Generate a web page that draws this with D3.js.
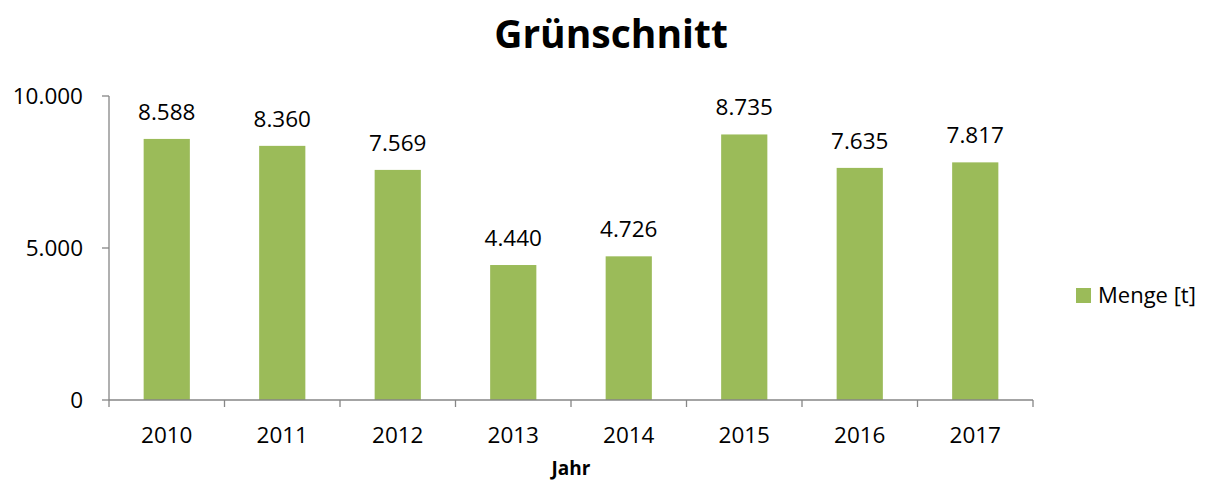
<!DOCTYPE html>
<html>
<head>
<meta charset="utf-8">
<script src="https://cdn.jsdelivr.net/npm/d3@7"></script>
<style>
  body { margin: 0; background: #fff; }
  svg text { font-family: "Open Sans", sans-serif; fill: #000; }
</style>
</head>
<body>
<svg id="chart" width="1211" height="482"></svg>
<script>
/*Data*/
var years = ['2010', '2011', '2012', '2013', '2014', '2015', '2016', '2017'];
var menge = [8588, 8360, 7569, 4440, 4726, 8735, 7635, 7817];
var yTicks = [0, 5000, 10000];

var svg = d3.select('#chart'),
    plotLeft = 109, plotRight = 1033, plotTop = 96, plotBottom = 400;

var fmt = function(v) { return d3.format(',')(v).replace(/,/g, '.'); };

var x = d3.scaleBand().domain(years).range([plotLeft, plotRight]).paddingInner(0.6).paddingOuter(0.3),
    y = d3.scaleLinear().domain([0, 10000]).range([plotBottom, plotTop]);

/*Title*/
svg.append('text')
    .attr('x', 611).attr('y', 48)
    .attr('text-anchor', 'middle')
    .style('font-size', '39px').style('font-weight', 'bold')
    .text('Grünschnitt');

/*Bars*/
svg.selectAll('.bar')
  .data(menge)
  .enter().append('rect')
    .attr('class', 'bar')
    .attr('x', function(d, i) { return x(years[i]); })
    .attr('y', function(d) { return y(d); })
    .attr('width', x.bandwidth())
    .attr('height', function(d) { return plotBottom - y(d); })
    .attr('fill', '#9BBB59');

svg.selectAll('.lbl')
  .data(menge)
  .enter().append('text')
    .attr('class', 'lbl')
    .attr('x', function(d, i) { return x(years[i]) + x.bandwidth() / 2; })
    .attr('y', function(d) { return y(d) - 19; })
    .attr('text-anchor', 'middle')
    .style('font-size', '22.5px')
    .text(fmt);

/*Axes*/
var axisColor = '#868686';
svg.append('line')
    .attr('x1', plotLeft).attr('x2', plotLeft).attr('y1', plotTop).attr('y2', plotBottom)
    .attr('stroke', axisColor).attr('stroke-width', 1.3);
svg.append('line')
    .attr('x1', plotLeft).attr('x2', plotRight).attr('y1', plotBottom).attr('y2', plotBottom)
    .attr('stroke', axisColor).attr('stroke-width', 1.3);

svg.selectAll('.ytick')
  .data(yTicks)
  .enter().append('line')
    .attr('x1', plotLeft - 7).attr('x2', plotLeft)
    .attr('y1', function(d) { return y(d); })
    .attr('y2', function(d) { return y(d); })
    .attr('stroke', axisColor).attr('stroke-width', 1.3);

svg.selectAll('.ylbl')
  .data(yTicks)
  .enter().append('text')
    .attr('x', 83)
    .attr('y', function(d) { return y(d) + 8; })
    .attr('text-anchor', 'end')
    .style('font-size', '22.5px')
    .text(fmt);

var bounds = years.map(function(d) { return x(d) - x.step() * x.paddingInner() / 2; }).concat([plotRight]);
svg.selectAll('.xtick')
  .data(bounds)
  .enter().append('line')
    .attr('x1', function(d) { return d; }).attr('x2', function(d) { return d; })
    .attr('y1', plotBottom).attr('y2', plotBottom + 7)
    .attr('stroke', axisColor).attr('stroke-width', 1.3);

svg.selectAll('.xlbl')
  .data(years)
  .enter().append('text')
    .attr('x', function(d) { return x(d) + x.bandwidth() / 2; })
    .attr('y', 443)
    .attr('text-anchor', 'middle')
    .style('font-size', '22.5px')
    .text(function(d) { return d; });

svg.append('text')
    .attr('x', (plotLeft + plotRight) / 2).attr('y', 475)
    .attr('text-anchor', 'middle')
    .style('font-size', '19px').style('font-weight', 'bold')
    .text('Jahr');

/*Legend*/
svg.append('rect')
    .attr('x', 1076).attr('y', 288).attr('width', 15).attr('height', 15)
    .attr('fill', '#9BBB59');
svg.append('text')
    .attr('x', 1098).attr('y', 303)
    .style('font-size', '22px')
    .text('Menge [t]');
</script>
</body>
</html>
